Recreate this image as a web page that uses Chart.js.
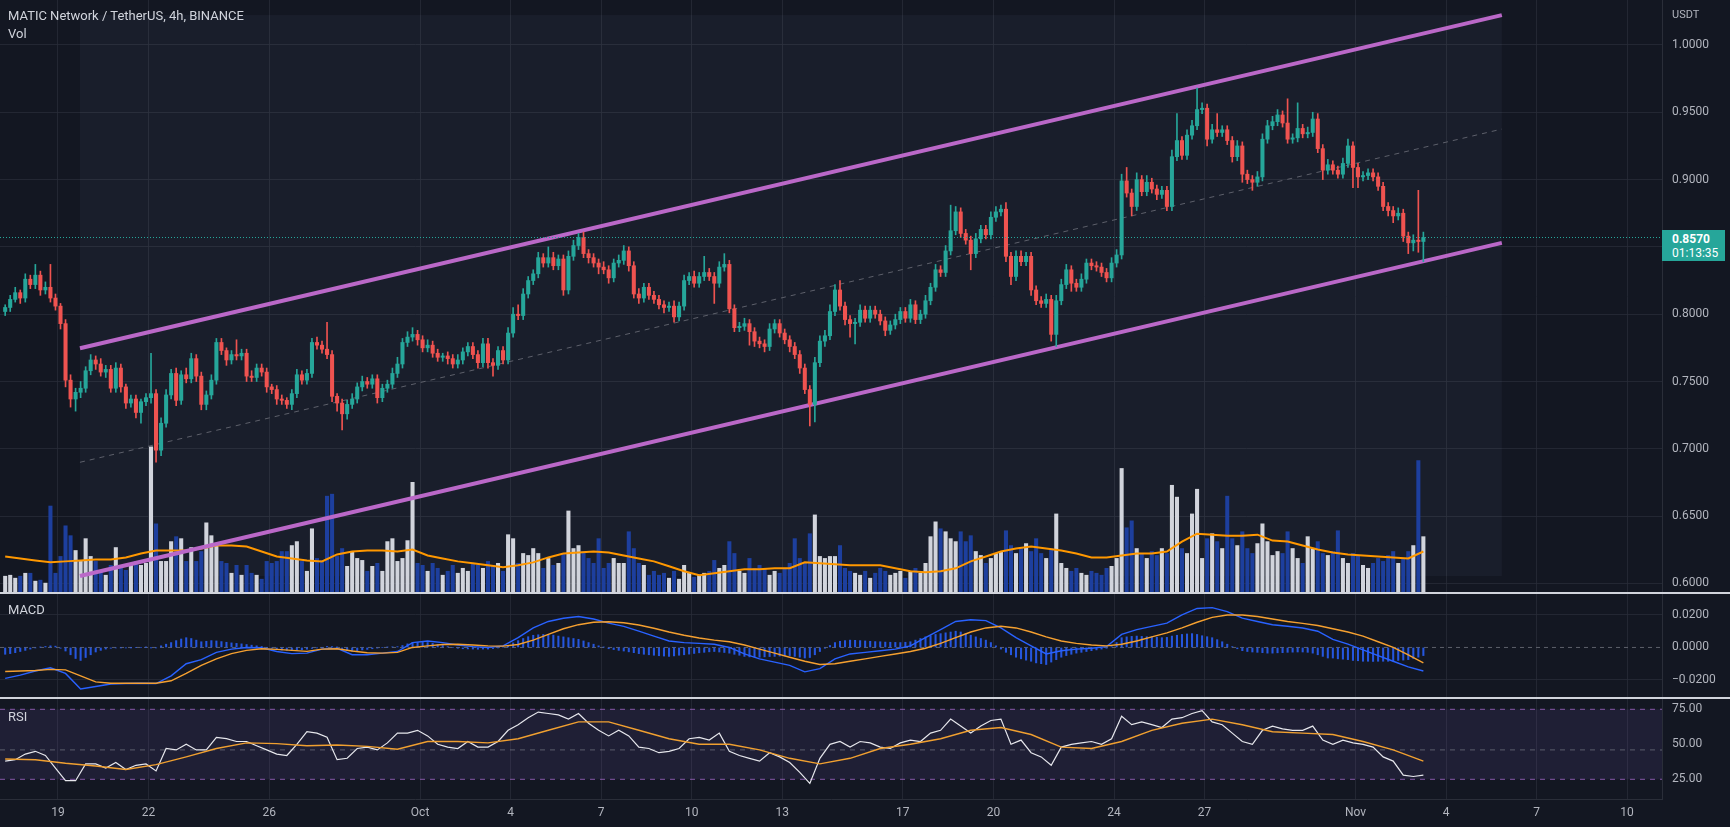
<!DOCTYPE html>
<html lang="en">
<head>
<meta charset="UTF-8">
<title>MATIC Network / TetherUS, 4h</title>
<script src="https://cdn.jsdelivr.net/npm/chart.js@4.4.1/dist/chart.umd.min.js"></script>
<style>
  html, body { margin: 0; padding: 0; background: #131722; }
  body { position: relative; width: 1730px; height: 827px; overflow: hidden; font-family: Roboto, "Liberation Sans", sans-serif; }
  .pane { position: absolute; left: 0; width: 1730px; }
  #pricePane { top: 0; height: 593px; }
  #macdPane { top: 593px; height: 105px; }
  #rsiPane { top: 698px; height: 129px; }
  .sep { position: absolute; left: 0; width: 1730px; height: 2px; background: #d1d4dc; z-index: 2; }
  .lbl { position: absolute; left: 8px; color: #d1d4dc; font-size: 13px; line-height: 16px; z-index: 3; white-space: nowrap; }
  #lastBox { position: absolute; left: 1662px; top: 230px; width: 63px; height: 31px; background: #26a69a; color: #fff; font-size: 12px; line-height: 14px; z-index: 3; }
</style>
</head>
<body>
<div id="pricePane" class="pane"><canvas id="priceChart"></canvas></div>
<div id="macdPane" class="pane"><canvas id="macdChart"></canvas></div>
<div id="rsiPane" class="pane"><canvas id="rsiChart"></canvas></div>
<div class="sep" style="top:592px"></div>
<div class="sep" style="top:697px"></div>
<div class="lbl" style="top:8px">MATIC Network / TetherUS, 4h, BINANCE</div>
<div class="lbl" style="top:26px">Vol</div>
<div class="lbl" style="top:602px">MACD</div>
<div class="lbl" style="top:709px">RSI</div>
<div class="lbl" style="top:7px;left:1672px;font-size:11px;color:#b2b5be">USDT</div>
<div id="lastBox"><div id="lastPrice" style="padding:2px 0 0 10px;font-weight:bold"></div><div style="padding-left:10px">01:13:35</div></div>

<script>
// 4h candles, bar 0 = Sep 17 04:00 ... bar 282 = Nov 3
const firstOpen = 0.802;
const close = [
.805,.811,.816,.812,.826,.822,.829,.818,.820,.812,
.806,.793,.751,.737,.742,.745,.758,.766,.763,.757,
.759,.745,.760,.746,.734,.737,.727,.735,.738,.741,
.699,.719,.740,.756,.736,.755,.752,.767,.754,.733,
.740,.751,.779,.773,.766,.770,.769,.771,.754,.753,
.760,.757,.746,.744,.737,.736,.733,.741,.755,.751,
.756,.779,.777,.774,.770,.739,.734,.726,.733,.737,
.746,.750,.748,.752,.738,.745,.748,.756,.763,.779,
.783,.785,.781,.775,.777,.771,.768,.769,.767,.763,
.766,.772,.776,.770,.764,.778,.764,.762,.773,.766,
.786,.800,.799,.815,.825,.830,.842,.838,.842,.836,
.841,.818,.843,.851,.857,.845,.842,.838,.835,.833,
.827,.838,.840,.847,.836,.815,.812,.820,.814,.811,
.807,.805,.806,.798,.806,.825,.828,.823,.828,.831,
.828,.823,.835,.837,.804,.790,.791,.793,.787,.780,
.778,.776,.789,.793,.786,.781,.776,.770,.760,.744,
.733,.764,.780,.784,.802,.818,.806,.796,.793,.794,
.803,.797,.803,.800,.795,.788,.792,.796,.802,.797,
.807,.796,.800,.810,.820,.833,.831,.847,.862,.876,
.860,.855,.845,.856,.863,.859,.872,.876,.878,.843,
.828,.843,.839,.843,.818,.810,.808,.811,.785,.810,
.822,.833,.823,.820,.826,.838,.836,.835,.831,.827,
.838,.844,.899,.890,.880,.900,.891,.898,.893,.889,
.892,.880,.917,.929,.918,.933,.940,.952,.953,.930,
.937,.935,.937,.929,.917,.925,.904,.900,.898,.902,
.930,.940,.943,.948,.942,.930,.931,.938,.934,.935,
.945,.923,.907,.911,.907,.904,.912,.925,.909,.902,
.903,.905,.902,.895,.880,.877,.873,.875,.858,.853,
.855,.854,.857];
// wick lengths beyond the body, in 0.001 USDT
const wickUp = [
2,3,4,2,4,3,8,3,4,17, 3,2,3,4,3,5,3,4,3,4, 3,3,4,3,2,3,3,2,3,30, 3,4,4,3,4,3,5,4,3,3,
3,4,3,3,2,3,11,3,3,4, 3,3,3,2,3,3,2,3,4,3, 3,3,4,3,20,3,2,3,3,4, 3,4,3,3,3,3,3,4,5,3,
4,5,3,3,4,3,3,2,3,3, 4,3,3,3,3,4,4,3,3,3, 4,5,7,4,3,3,4,3,8,4, 3,3,4,4,3,4,3,3,3,4,
3,3,4,4,3,3,4,3,3,3, 3,3,3,4,3,4,3,4,3,12, 3,3,4,8,3,3,3,4,3,3, 3,3,4,3,3,3,3,3,3,3,
3,4,4,4,5,4,7,3,3,3, 4,3,3,3,3,3,3,4,3,3, 4,3,3,4,3,4,3,4,19,4, 3,3,3,4,3,3,4,4,3,5,
3,4,4,3,3,3,3,4,3,4, 4,4,3,3,4,3,3,3,3,3, 4,4,5,10,3,5,3,5,3,3, 3,3,5,20,3,4,4,16,4,3,
4,12,3,3,3,4,3,3,3,4, 4,4,4,4,3,18,3,19,3,4, 5,4,3,4,3,3,4,5,3,3, 3,3,3,3,3,3,3,4,3,3,
4,37,4];
const wickDn = [
3,3,2,4,3,3,3,4,3,3, 3,4,5,6,9,4,3,3,4,3, 4,3,3,4,4,3,4,8,3,4, 9,4,3,3,4,3,3,3,4,4,
4,3,3,3,4,3,3,3,4,3, 3,3,4,3,4,3,3,4,3,3, 3,3,3,3,3,4,6,12,4,3, 3,3,3,3,4,3,3,3,3,3,
3,3,4,3,3,3,3,3,4,3, 3,3,3,3,4,3,4,8,3,3, 3,3,3,3,3,3,3,3,3,3, 3,4,3,3,3,3,4,3,5,3,
4,3,3,3,4,3,4,3,3,3, 3,4,3,4,3,3,3,3,3,3, 3,15,3,3,3,3,3,3,10,4, 3,4,3,3,3,3,4,3,4,3,
16,13,3,4,3,3,3,4,10,15, 3,3,3,3,3,4,3,3,3,3, 3,3,3,3,3,3,3,3,3,3, 3,3,12,3,3,3,3,3,3,4,
6,3,3,3,4,3,3,3,5,9, 3,3,6,3,3,3,3,3,3,3, 3,3,3,3,7,3,3,3,3,4, 3,3,3,3,3,3,3,3,3,5,
3,3,3,3,4,3,6,3,6,3, 3,3,3,3,3,3,3,3,3,3, 3,3,7,3,3,3,3,3,15,8, 3,3,3,3,3,4,5,3,4,8,
6,8,15];
// volume per bar (units of 250k MATIC)
const volume = [
17,18,15,17,20,20,12,13,10,88, 20,37,68,58,43,32,55,37,32,23, 18,28,46,27,23,28,32,28,30,148,
70,32,32,52,57,55,32,46,32,42, 71,58,50,32,30,20,28,18,28,20, 18,14,32,30,32,42,42,48,52,32,
22,65,35,33,98,100,37,45,27,42, 35,33,22,27,30,22,52,55,32,35, 53,112,30,28,22,30,25,18,22,28,
20,25,22,30,28,25,32,28,30,22, 59,55,30,40,38,45,40,25,35,28, 30,40,83,45,48,42,35,30,55,25,
30,35,30,30,62,45,30,28,18,22, 18,20,15,22,14,28,20,16,18,20, 22,33,25,28,52,40,22,20,35,25,
28,25,18,22,20,25,30,55,35,30, 60,79,37,35,37,37,48,25,22,20, 18,22,15,20,25,22,18,20,22,15,
22,25,20,30,57,72,65,62,55,52, 62,52,58,42,38,30,35,40,42,63, 48,40,45,50,42,55,40,35,45,80,
30,25,22,25,20,18,22,20,18,25, 27,35,126,66,73,45,40,35,42,38, 45,40,109,97,45,40,80,105,35,55,
60,52,45,98,55,48,62,45,40,50, 70,52,38,42,40,62,45,35,30,57, 45,52,40,38,42,63,35,30,40,38,
28,25,30,35,32,38,42,30,35,42, 48,134,57];
// volume moving average, one value every 3 bars
const volMA = [37,35,33,31,32,33,34,34,36,40, 43,43,43,45,48,48,47,42,37,35, 33,32,39,42,43,43,42,44,38,35,
32,30,28,26,28,31,36,40,41,42, 41,38,35,32,27,22,18,20,22,24, 24,25,25,31,30,29,28,28,28,25,
22,21,22,25,32,37,42,45,47,45, 43,40,36,36,38,40,40,42,52,60, 59,58,58,59,53,52,48,44,41,39,
38,37,36,35,42];
// MACD (x 1e-4), line and signal every 3 bars, histogram every bar
const macdLine = [-190,-170,-145,-125,-160,-255,-240,-225,-222,-220,-222,-175,-100,-75,-30,-10,0,-2,-25,-38,-35,-10,-5,-45,-45,-35,-25,
30,40,30,15,5,0,10,60,120,160, 180,190,175,150,130,100,70,40,30,25, 20,0,-40,-70,-90,-110,-150,-130,-70,-40,
-30,-20,-10,10,60,110,160,170,165,120, 60,10,-40,-20,-10,-5,5,80,110,130, 150,200,240,245,220,180,160,140,130,120,
100,50,20,-15,-50,-85,-120,-145];
const signalLine = [-148,-145,-142,-135,-138,-175,-212,-220,-220,-220,-220,-205,-160,-110,-70,-38,-18,-8,-12,-18,-24,-10,-8,-22,-33,-35,-30,
0,10,18,20,15,10,8,18,45,80, 115,140,155,158,152,138,118,95,75,58, 45,35,15,-10,-35,-60,-85,-105,-100,-85,
-70,-55,-40,-25,-5,25,60,95,120,130, 120,95,65,40,25,15,10,20,40,65, 90,120,155,185,200,200,190,175,160,148,
135,115,95,70,35,0,-45,-95];
const macdHist = [
-42,-38,-32,-25,-18,-10,-3,2,6,10, 8,-5,-22,-45,-68,-80,-62,-45,-28,-18, -10,-5,-3,-2,-2,-1,0,0,1,-1,
-2,10,20,30,42,52,60,55,45,35, 38,42,40,36,32,28,25,22,18,14, 10,6,0,-6,-13,-16,-18,-20,-18,-14,
-11,-6,-2,0,6,5,3,-8,-16,-23, -20,-15,-12,-8,-4,0,2,4,5,12, 22,30,32,31,30,25,18,12,5,0,
-5,-8,-9,-10,-11,-10,-10,-7,-3,2, 12,28,42,55,66,75,78,80,80,76, 70,65,60,55,50,40,30,20,10,2,
-8,-13,-18,-22,-27,-32,-38,-42,-45,-48, -51,-53,-55,-52,-48,-45,-41,-37,-33,-30, -27,-25,-28,-31,-35,-42,-48,-55,-58,-59,
-60,-58,-56,-55,-53,-52,-50,-55,-60,-65, -62,-45,-25,-5,12,30,38,42,45,44, 42,40,38,36,35,33,32,31,30,32,
35,45,55,65,72,80,85,90,95,100, 95,85,75,65,55,45,30,10,-10,-30, -45,-60,-70,-78,-85,-95,-100,-105,-90,-75,
-60,-50,-42,-35,-30,-25,-20,-15,-10,-5, 5,30,60,65,68,70,68,66,65,63, 60,62,70,75,80,83,85,80,72,66,
60,48,35,20,5,-8,-20,-25,-28,-30, -32,-35,-35,-33,-32,-30,-29,-28,-28,-30, -35,-45,-55,-65,-65,-70,-72,-75,-80,-82,
-85,-85,-86,-85,-85,-85,-84,-80,-78,-75, -68,-60,-50];
// RSI every 2 bars, RSI moving average every 6 bars
const rsi = [38,39,43,45,42,33,24,24,36,36, 33,37,32,35,36,31,47,46,50,46, 46,55,54,52,52,49,46,43,42,50, 59,58,55,39,40,47,48,46,51,58,
58,60,56,50,48,47,52,48,48,52, 60,64,69,73,72,71,68,72,65,60, 56,60,56,48,47,44,45,47,54,55, 53,58,45,42,40,38,44,41,37,30,
22,40,50,52,48,52,51,48,47,51, 53,52,58,60,68,63,58,63,67,68, 50,53,44,41,35,48,50,51,52,50, 54,70,64,66,64,62,68,69,72,74,
66,64,58,52,50,60,63,61,60,60, 63,53,50,53,51,50,48,41,38,28, 27,28];
const rsiMA = [39.5,39,36.5,34.5,32,35.5,41,47,51,50.5,49,49.5,48.5,46.5,
52,52,51,54,60,66,66,60,54,50,50,46,40,36,40,47,50,54,60,62,57,48,47,52,60,65,68,64,59,58,57,52,46,38];
const rsiLevels = [75, 46, 25];

// drawing anchors of the parallel channel (bar index, price)
const chanX = [14.87, 297.6];
const chanUpper = [0.7747, 1.0222];
const chanMid = [0.690, 0.9375];
const chanLower = [0.6055, 0.853];

const dayLabels = ['19','22','26','Oct','4','7','10','13','17','20','24','27','Nov','4','7','10'];
const dayOffsets = [0,3,7,12,15,18,21,24,28,31,35,38,43,46,49,52];
const priceTicks = [0.60,0.65,0.70,0.75,0.80,0.85,0.90,0.95,1.00];

Chart.defaults.font.family = "Roboto, 'Liberation Sans', sans-serif";
Chart.defaults.font.size = 12;
Chart.defaults.color = '#b2b5be';
Chart.defaults.animation = false;
Chart.defaults.plugins.legend.display = false;
Chart.defaults.plugins.tooltip.enabled = false;

const X_MIN = -1.03, X_MAX = 329.45, AXIS_W = 68;
const gridColor = 'rgba(42,46,57,0.75)';
const tickIdx = dayOffsets.map(d => 10.5 + 6 * d);
const UP = '#26a69a', DOWN = '#ef5350';

const open = close.map((c, i) => i ? close[i - 1] : firstOpen);
const high = close.map((c, i) => Math.max(open[i], c) + wickUp[i] / 1000);
const low = close.map((c, i) => Math.min(open[i], c) - wickDn[i] / 1000);
const isUp = close.map((c, i) => c >= open[i]);
const candleColors = isUp.map(u => u ? UP : DOWN);
const lastClose = close[close.length - 1];
document.getElementById('lastPrice').textContent = lastClose.toFixed(4);

function xScale(showLabels) {
  return {
    type: 'linear', min: X_MIN, max: X_MAX, offset: false,
    afterBuildTicks: s => { s.ticks = tickIdx.map(v => ({ value: v })); },
    grid: { color: gridColor, drawTicks: false, offset: false },
    border: { display: showLabels, color: '#2a2e39' },
    ticks: { display: showLabels, autoSkip: false, maxRotation: 0, padding: 7, color: '#b2b5be',
      callback: (v, i) => dayLabels[i] },
    afterFit: s => { s.height = showLabels ? 28 : 0; s.paddingLeft = 0; s.paddingRight = 0; }
  };
}
function yScale(min, max, ticks, fmt, gridCol) {
  return {
    position: 'right', min: min, max: max,
    afterBuildTicks: s => { s.ticks = ticks.map(v => ({ value: v })); },
    grid: { color: gridCol || gridColor, drawTicks: false },
    border: { color: '#2a2e39' },
    ticks: { padding: 10, color: '#b2b5be', callback: fmt },
    afterFit: s => { s.width = AXIS_W; s.paddingTop = 0; s.paddingBottom = 0; }
  };
}
const segment = ys => chanX.map((x, k) => ({ x: x, y: ys[k] }));
const common = { responsive: true, maintainAspectRatio: false, layout: { padding: 0 } };

// light box behind the channel + dotted last price line
const channelBox = {
  id: 'channelBox',
  beforeDatasetsDraw(chart) {
    const { ctx, scales: { x, y } } = chart;
    const x0 = x.getPixelForValue(chanX[0]), x1 = x.getPixelForValue(chanX[1]);
    const y0 = y.getPixelForValue(chanUpper[1]), y1 = y.getPixelForValue(chanLower[0]);
    ctx.save();
    ctx.fillStyle = 'rgba(140,145,185,0.06)';
    ctx.fillRect(x0, y0, x1 - x0, y1 - y0);
    ctx.restore();
  },
  afterDatasetsDraw(chart) {
    const { ctx, chartArea: a, scales: { y } } = chart;
    const py = Math.round(y.getPixelForValue(lastClose)) + 0.5;
    ctx.save();
    ctx.strokeStyle = UP;
    ctx.lineWidth = 1;
    ctx.setLineDash([1, 2]);
    ctx.beginPath(); ctx.moveTo(a.left, py); ctx.lineTo(a.right, py); ctx.stroke();
    ctx.restore();
  }
};

new Chart('priceChart', {
  type: 'line',
  data: { datasets: [
    { type: 'bar', yAxisID: 'yv', data: volume.map((v, i) => ({ x: i, y: v })),
      backgroundColor: isUp.map(u => u ? '#d1d4dc' : '#1d3f9e'), barThickness: 3.4, grouped: false, order: 6 },
    { yAxisID: 'yv', data: volMA.map((v, k) => ({ x: k * 3, y: v })), borderColor: '#ff9800', borderWidth: 2, pointRadius: 0, order: 5 },
    { data: segment(chanMid), borderColor: '#5d606b', borderDash: [5, 5], borderWidth: 1, pointRadius: 0, order: 4 },
    { data: segment(chanUpper), borderColor: '#ba68c8', borderWidth: 4, pointRadius: 0, order: 3 },
    { data: segment(chanLower), borderColor: '#ba68c8', borderWidth: 4, pointRadius: 0, order: 3 },
    { type: 'bar', data: close.map((c, i) => ({ x: i, y: [low[i], high[i]] })),
      backgroundColor: candleColors, barThickness: 1, grouped: false, order: 2 },
    { type: 'bar', data: close.map((c, i) => ({ x: i, y: [open[i], c] })),
      backgroundColor: candleColors, barThickness: 3.4, grouped: false, minBarLength: 1, order: 1 }
  ]},
  options: Object.assign({}, common, { scales: {
    x: xScale(false),
    y: yScale(0.5929, 1.0334, priceTicks, v => v.toFixed(4)),
    yv: { display: false, min: 0, max: 600 }
  }}),
  plugins: [channelBox]
});

new Chart('macdChart', {
  type: 'line',
  data: { datasets: [
    { data: [{ x: X_MIN, y: 0 }, { x: X_MAX, y: 0 }], borderColor: '#5d606b', borderDash: [4, 4], borderWidth: 1, pointRadius: 0, order: 4 },
    { type: 'bar', data: macdHist.map((v, i) => ({ x: i, y: v })), backgroundColor: 'rgba(41,98,255,0.85)', barThickness: 1.4, grouped: false, order: 3 },
    { data: macdLine.map((v, k) => ({ x: k * 3, y: v })), borderColor: '#2962ff', borderWidth: 1.4, pointRadius: 0, order: 2 },
    { data: signalLine.map((v, k) => ({ x: k * 3, y: v })), borderColor: '#f5a030', borderWidth: 1.4, pointRadius: 0, order: 1 }
  ]},
  options: Object.assign({}, common, { scales: {
    x: xScale(false),
    y: yScale(-311, 335, [-200, 0, 200], v => (v / 1e4).toFixed(4).replace('-', '\u2212'),
      c => c.tick && c.tick.value === 0 ? 'rgba(0,0,0,0)' : gridColor)
  }})
});

const rsiBands = {
  id: 'rsiBands',
  beforeDatasetsDraw(chart) {
    const { ctx, chartArea: a, scales: { y } } = chart;
    const yt = y.getPixelForValue(rsiLevels[0]), ym = y.getPixelForValue(rsiLevels[1]), yb = y.getPixelForValue(rsiLevels[2]);
    ctx.save();
    ctx.fillStyle = 'rgba(126,87,194,0.12)';
    ctx.fillRect(a.left, yt, a.right - a.left, yb - yt);
    ctx.lineWidth = 1;
    ctx.setLineDash([5, 5]);
    ctx.strokeStyle = 'rgba(170,110,210,0.75)';
    [yt, yb].forEach(p => { ctx.beginPath(); ctx.moveTo(a.left, p); ctx.lineTo(a.right, p); ctx.stroke(); });
    ctx.strokeStyle = 'rgba(120,123,134,0.7)';
    ctx.beginPath(); ctx.moveTo(a.left, ym); ctx.lineTo(a.right, ym); ctx.stroke();
    ctx.restore();
  }
};

new Chart('rsiChart', {
  type: 'line',
  data: { datasets: [
    { data: rsi.map((v, k) => ({ x: k * 2, y: v })), borderColor: '#e6e7ec', borderWidth: 1.2, pointRadius: 0, order: 2 },
    { data: rsiMA.map((v, k) => ({ x: k * 6, y: v })), borderColor: '#f0a030', borderWidth: 1.4, pointRadius: 0, order: 1 }
  ]},
  options: Object.assign({}, common, { scales: {
    x: xScale(true),
    y: yScale(10.93, 83.07, [25, 50, 75], v => v.toFixed(2), 'rgba(0,0,0,0)')
  }}),
  plugins: [rsiBands]
});
</script>
</body>
</html>
